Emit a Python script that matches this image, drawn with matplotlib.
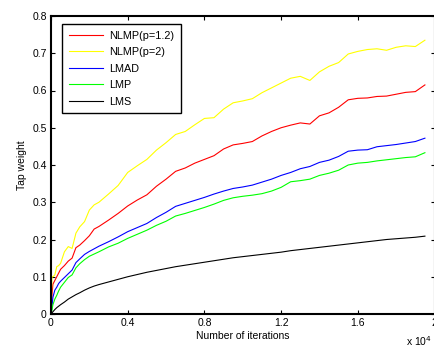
import matplotlib
matplotlib.use("Agg")
import matplotlib.pyplot as plt

plt.rcParams["font.family"] = ["Liberation Sans", "DejaVu Sans"]

# iterations in units of 1e4
iters = [0, 0.005, 0.01, 0.02, 0.03, 0.04, 0.05, 0.07, 0.09, 0.11, 0.13, 0.15,
         0.175, 0.2, 0.225, 0.25, 0.3, 0.35, 0.4, 0.45, 0.5, 0.55, 0.6, 0.65,
         0.7, 0.75, 0.8, 0.85, 0.9, 0.95, 1.0, 1.05, 1.1, 1.15, 1.2, 1.25, 1.3,
         1.35, 1.4, 1.45, 1.5, 1.55, 1.6, 1.65, 1.7, 1.75, 1.8, 1.85, 1.9, 1.95]

nlmp_12 = [0, 0.05, 0.08, 0.09, 0.10, 0.11, 0.12, 0.13, 0.142, 0.15, 0.178, 0.185,
           0.197, 0.21, 0.228, 0.235, 0.252, 0.27, 0.29, 0.306, 0.32, 0.343, 0.362,
           0.383, 0.392, 0.405, 0.415, 0.425, 0.443, 0.454, 0.458, 0.463, 0.478,
           0.49, 0.5, 0.507, 0.513, 0.51, 0.532, 0.54, 0.555, 0.575, 0.579, 0.58,
           0.584, 0.585, 0.59, 0.595, 0.597, 0.615]

nlmp_2 = [0, 0.1, 0.10, 0.105, 0.127, 0.13, 0.136, 0.167, 0.181, 0.176, 0.217, 0.234,
          0.248, 0.279, 0.293, 0.30, 0.322, 0.345, 0.38, 0.398, 0.415, 0.44, 0.46,
          0.482, 0.49, 0.508, 0.525, 0.527, 0.55, 0.567, 0.572, 0.578, 0.594,
          0.607, 0.62, 0.633, 0.638, 0.627, 0.65, 0.665, 0.675, 0.698, 0.705,
          0.71, 0.712, 0.708, 0.716, 0.72, 0.718, 0.735]

lmad = [0, 0.02, 0.045, 0.064, 0.072, 0.082, 0.088, 0.098, 0.108, 0.118, 0.138,
        0.148, 0.16, 0.168, 0.175, 0.182, 0.194, 0.207, 0.221, 0.232, 0.243,
        0.259, 0.273, 0.289, 0.297, 0.305, 0.313, 0.322, 0.33, 0.337, 0.341,
        0.346, 0.354, 0.362, 0.372, 0.38, 0.39, 0.396, 0.407, 0.413, 0.423,
        0.437, 0.44, 0.441, 0.449, 0.452, 0.455, 0.459, 0.463, 0.472]

lmp = [0, 0.01, 0.025, 0.04, 0.05, 0.062, 0.072, 0.085, 0.098, 0.105, 0.124,
       0.135, 0.146, 0.155, 0.161, 0.167, 0.18, 0.19, 0.203, 0.214, 0.225,
       0.238, 0.249, 0.263, 0.27, 0.278, 0.286, 0.295, 0.305, 0.312, 0.316,
       0.319, 0.323, 0.33, 0.34, 0.355, 0.358, 0.362, 0.372, 0.378, 0.386,
       0.4, 0.405, 0.407, 0.411, 0.414, 0.417, 0.42, 0.422, 0.433]

lms = [0, 0.003, 0.006, 0.012, 0.017, 0.021, 0.025, 0.032, 0.04, 0.046, 0.052,
       0.057, 0.064, 0.07, 0.075, 0.079, 0.086, 0.093, 0.1, 0.106, 0.112, 0.117,
       0.122, 0.127, 0.131, 0.135, 0.139, 0.143, 0.147, 0.151, 0.154, 0.157,
       0.16, 0.163, 0.166, 0.17, 0.173, 0.176, 0.179, 0.182, 0.185, 0.188,
       0.191, 0.194, 0.197, 0.2, 0.202, 0.204, 0.206, 0.209]

series = [
    ("NLMP(p=1.2)", nlmp_12, "#ff0000"),
    ("NLMP(p=2)", nlmp_2, "#ffff00"),
    ("LMAD", lmad, "#0000ff"),
    ("LMP", lmp, "#00ff00"),
    ("LMS", lms, "#000000"),
]

fig = plt.figure(figsize=(4.34, 3.47), dpi=100)
ax = fig.add_axes([51 / 434, 33 / 347, 383.5 / 434, 298 / 347])

for name, vals, col in series:
    ax.plot(iters, vals, color=col, linewidth=0.8, label=name)

ax.set_xlim(0, 2)
ax.set_ylim(0, 0.8)
ax.set_xticks([0, 0.4, 0.8, 1.2, 1.6, 2])
ax.set_xticklabels(["0", "0.4", "0.8", "1.2", "1.6", "2"])
ax.set_yticks([0, 0.1, 0.2, 0.3, 0.4, 0.5, 0.6, 0.7, 0.8])
ax.set_yticklabels(["0", "0.1", "0.2", "0.3", "0.4", "0.5", "0.6", "0.7", "0.8"])
ax.tick_params(direction="in", top=True, right=True, length=3, width=0.8,
               labelsize=7.5, pad=3)
for s in ax.spines.values():
    s.set_linewidth(1.5)

ax.set_xlabel("Number of iterations", fontsize=7.5, labelpad=2)
ax.set_ylabel("Tap weight", fontsize=7.5, labelpad=4)
fig.text(406 / 434, 1 - 341 / 347, "x 10$^4$", fontsize=7.5, ha="left", va="center")

leg = ax.legend(loc="upper left", bbox_to_anchor=(0.0287, 0.973), fontsize=7.8,
                fancybox=False, edgecolor="black", framealpha=1,
                handlelength=3.2, handletextpad=0.55, labelspacing=0.6,
                borderpad=0.6, borderaxespad=0)
leg.get_frame().set_linewidth(1.0)

fig.savefig("out.png", dpi=100)
